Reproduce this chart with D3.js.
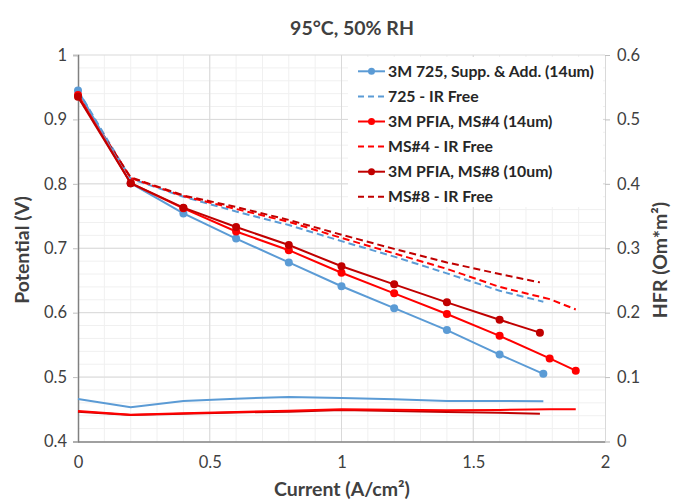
<!DOCTYPE html>
<html>
<head>
<meta charset="utf-8">
<script src="https://cdn.jsdelivr.net/npm/d3@7"></script>
<style>
  html, body { margin: 0; padding: 0; background: #fff; }
  svg { display: block; font-family: Lato, "Open Sans", sans-serif; }
</style>
</head>
<body>
<svg id="chart" width="676" height="500"></svg>
<script>
// Polarization curves (left axis) and high-frequency resistance (right axis)
const currentsA = [0, 0.2, 0.4, 0.6, 0.8, 1.0, 1.2, 1.4, 1.6, 1.766];
const currentsB = [0, 0.2, 0.4, 0.6, 0.8, 1.0, 1.2, 1.4, 1.6, 1.79, 1.889];
const currentsC = [0, 0.2, 0.4, 0.6, 0.8, 1.0, 1.2, 1.4, 1.6, 1.753];

const v725 = [0.945, 0.801, 0.754, 0.715, 0.678, 0.641, 0.607, 0.573, 0.535, 0.505];
const v725IR = [0.945, 0.808, 0.780, 0.757, 0.736, 0.711, 0.687, 0.661, 0.634, 0.617];
const hfr725 = [0.066, 0.053, 0.063, 0.0665, 0.069, 0.0675, 0.0655, 0.063, 0.063, 0.0624];

const vMS4 = [0.938, 0.801, 0.762, 0.726, 0.697, 0.662, 0.630, 0.598, 0.564, 0.529, 0.510];
const vMS4IR = [0.938, 0.809, 0.781, 0.761, 0.741, 0.716, 0.692, 0.668, 0.640, 0.621, 0.605];
const hfrMS4 = [0.0473, 0.0417, 0.0437, 0.0458, 0.0478, 0.050, 0.0494, 0.0484, 0.049, 0.050, 0.050];

const vMS8 = [0.935, 0.801, 0.763, 0.733, 0.705, 0.672, 0.644, 0.616, 0.589, 0.569];
const vMS8IR = [0.935, 0.810, 0.782, 0.764, 0.744, 0.721, 0.699, 0.678, 0.660, 0.647];
const hfrMS8 = [0.0463, 0.041, 0.043, 0.0452, 0.0463, 0.0489, 0.0473, 0.0458, 0.0447, 0.043];

const xTicks = [0, 0.5, 1, 1.5, 2];
const yTicks = [0.4, 0.5, 0.6, 0.7, 0.8, 0.9, 1];
const y2Ticks = [0, 0.1, 0.2, 0.3, 0.4, 0.5, 0.6];

const legendLabels = [
  "3M 725, Supp. & Add. (14um)",
  "725 - IR Free",
  "3M PFIA, MS#4 (14um)",
  "MS#4 - IR Free",
  "3M PFIA, MS#8 (10um)",
  "MS#8 - IR Free"
];

const BLUE = "#5B9BD5", RED = "#FF0000", DARK = "#C00000";

const svg = d3.select("#chart");
const plotLeft = 78, plotRight = 605, plotTop = 55, plotBottom = 441.5;

const x = d3.scaleLinear().domain([0, 2]).range([plotLeft, plotRight]);
const y = d3.scaleLinear().domain([0.4, 1]).range([plotBottom, plotTop]);
const y2 = d3.scaleLinear().domain([0, 0.6]).range([plotBottom, plotTop]);

// grid: minor then major
const grid = svg.append("g");
grid.selectAll(null).data(d3.range(1, 20).map(i => i / 10)).enter()
  .append("line").attr("x1", d => x(d)).attr("x2", d => x(d))
  .attr("y1", plotTop).attr("y2", plotBottom).attr("stroke", "#f0f0f0").attr("stroke-width", 1);
grid.selectAll(null).data(d3.range(1, 30).map(i => 0.4 + i * 0.02)).enter()
  .append("line").attr("y1", d => y(d)).attr("y2", d => y(d))
  .attr("x1", plotLeft).attr("x2", plotRight).attr("stroke", "#f0f0f0").attr("stroke-width", 1);
grid.selectAll(null).data([0.5, 1, 1.5]).enter()
  .append("line").attr("x1", d => x(d)).attr("x2", d => x(d))
  .attr("y1", plotTop).attr("y2", plotBottom).attr("stroke", "#d9d9d9").attr("stroke-width", 1);
grid.selectAll(null).data([0.5, 0.6, 0.7, 0.8, 0.9, 1]).enter()
  .append("line").attr("y1", d => y(d)).attr("y2", d => y(d))
  .attr("x1", plotLeft).attr("x2", plotRight).attr("stroke", "#d9d9d9").attr("stroke-width", 1);

// axes
const fmt = d => d3.format("~g")(d);
const gx = svg.append("g").attr("transform", `translate(0,${plotBottom})`)
  .call(d3.axisBottom(x).tickValues(xTicks).tickSize(0).tickPadding(15).tickFormat(fmt));
const gy = svg.append("g").attr("transform", `translate(${plotLeft},0)`)
  .call(d3.axisLeft(y).tickValues(yTicks).tickSize(5).tickPadding(6).tickFormat(fmt));
const gy2 = svg.append("g").attr("transform", `translate(${plotRight},0)`)
  .call(d3.axisRight(y2).tickValues(y2Ticks).tickSize(5).tickPadding(7).tickFormat(fmt));

[gx, gy, gy2].forEach(g => {
  g.selectAll("text").attr("font-size", 16.5).attr("fill", "#404040")
    .attr("font-family", "Lato, sans-serif");
  g.selectAll(".tick line").attr("stroke", "#bfbfbf");
});
gx.select(".domain").attr("stroke", "#808080").attr("stroke-width", 1.5);
gy.select(".domain").attr("stroke", "#808080").attr("stroke-width", 1.5);
gy2.select(".domain").attr("stroke", "#d9d9d9");

// series
const plot = svg.append("g");
function drawLine(xs, ys, scale, color, dashed) {
  const pts = xs.map((d, i) => [d, ys[i]]);
  plot.append("path").datum(pts)
    .attr("d", d3.line().x(d => x(d[0])).y(d => scale(d[1])))
    .attr("fill", "none").attr("stroke", color).attr("stroke-width", 2)
    .attr("stroke-dasharray", dashed ? "7,4" : null);
}
function drawDots(xs, ys, color) {
  plot.selectAll(null).data(xs.map((d, i) => [d, ys[i]])).enter()
    .append("circle").attr("cx", d => x(d[0])).attr("cy", d => y(d[1]))
    .attr("r", 4).attr("fill", color);
}

drawLine(currentsA, hfr725, y2, BLUE, false);
drawLine(currentsC, hfrMS8, y2, DARK, false);
drawLine(currentsB, hfrMS4, y2, RED, false);

drawLine(currentsA, v725IR, y, BLUE, true);
drawLine(currentsB, vMS4IR, y, RED, true);
drawLine(currentsC, vMS8IR, y, DARK, true);

drawLine(currentsA, v725, y, BLUE, false);
drawDots(currentsA, v725, BLUE);
drawLine(currentsB, vMS4, y, RED, false);
drawDots(currentsB, vMS4, RED);
drawLine(currentsC, vMS8, y, DARK, false);
drawDots(currentsC, vMS8, DARK);

// legend
const legend = svg.append("g");
legend.append("rect").attr("x", 348).attr("y", 57).attr("width", 255).attr("height", 150)
  .attr("fill", "#fff");
const legendStyles = [
  { color: BLUE, dashed: false }, { color: BLUE, dashed: true },
  { color: RED, dashed: false }, { color: RED, dashed: true },
  { color: DARK, dashed: false }, { color: DARK, dashed: true }
];
legendLabels.forEach((label, i) => {
  const ly = 71.3 + i * 25.1;
  const st = legendStyles[i];
  legend.append("line").attr("x1", 358).attr("x2", 385).attr("y1", ly).attr("y2", ly)
    .attr("stroke", st.color).attr("stroke-width", 2)
    .attr("stroke-dasharray", st.dashed ? "6,4" : null);
  if (!st.dashed) {
    legend.append("circle").attr("cx", 371.5).attr("cy", ly).attr("r", 3.5).attr("fill", st.color);
  }
  legend.append("text").attr("x", 388).attr("y", ly + 5.5).text(label)
    .attr("font-size", 15.8).attr("font-weight", "bold").attr("fill", "#262626");
});

// titles
svg.append("text").attr("x", 352).attr("y", 35).attr("text-anchor", "middle")
  .attr("font-size", 19.5).attr("font-weight", "bold").attr("fill", "#404040")
  .text("95°C, 50% RH");
svg.append("text").attr("x", 342).attr("y", 496).attr("text-anchor", "middle")
  .attr("font-size", 19.5).attr("font-weight", "bold").attr("fill", "#404040")
  .text("Current (A/cm²)");
svg.append("text").attr("transform", `translate(29,250) rotate(-90)`)
  .attr("text-anchor", "middle")
  .attr("font-size", 19.5).attr("font-weight", "bold").attr("fill", "#404040")
  .text("Potential (V)");
svg.append("text").attr("transform", `translate(667,260) rotate(-90)`)
  .attr("text-anchor", "middle")
  .attr("font-size", 19.5).attr("font-weight", "bold").attr("fill", "#404040")
  .text("HFR (Om*m²)");
</script>
</body>
</html>
